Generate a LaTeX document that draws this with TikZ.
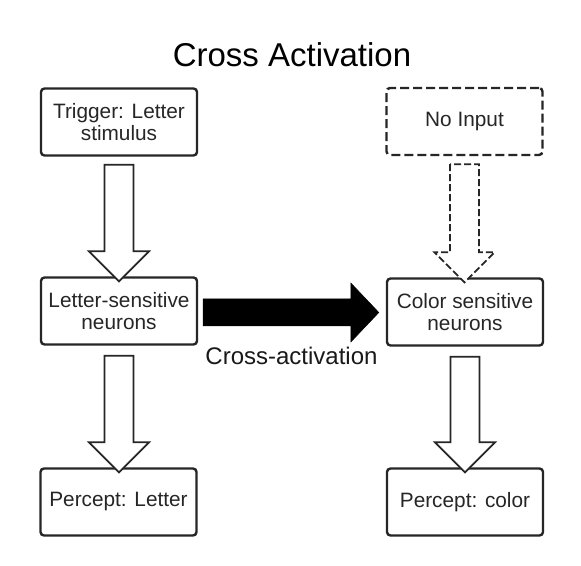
\documentclass[tikz,border=0pt]{standalone}
\usepackage{fontspec}
\setmainfont{Liberation Sans}
\usetikzlibrary{calc}
\tikzset{
  box/.style={draw=black!85, line width=2.4pt, rounded corners=3.5pt,
    minimum width=156pt, minimum height=67pt, align=center,
    font=\fontsize{20.8}{22}\selectfont, text=black!85, inner sep=0pt},
  dbox/.style={box, dash pattern=on 9pt off 4pt},
  harrow/.style={draw=black!85, line width=1.8pt, fill=white, line join=miter},
  dharrow/.style={harrow, dash pattern=on 7pt off 3pt},
  solidarrow/.style={draw=black, fill=black, line width=0.5pt, line join=miter},
  titlefont/.style={font=\fontsize{33}{36}\selectfont},
  labelfont/.style={font=\fontsize{24}{26}\selectfont, text=black!90},
}
\newcommand\downblock[3][]{%
  \draw[harrow,#1] let \p1=(#2), \p2=(#3) in
    (\x1-14.5pt,\y1) -- (\x1-14.5pt,\y2+30pt) -- (\x1-30pt,\y2+30pt) --
    (\x1,\y2) -- (\x1+30pt,\y2+30pt) -- (\x1+14.5pt,\y2+30pt) --
    (\x1+14.5pt,\y1) -- cycle;}
\begin{document}
\begin{tikzpicture}[x=1pt,y=1pt]
\useasboundingbox[fill=white] (0,0) rectangle (581,565);
\node[titlefont, anchor=base] (title) at (292,498) {Cross Activation};

\node[box] (trig) at (119,443) {Trigger: Letter\\stimulus};
\node[dbox] (noinp) at (464.5,443.5) {No Input};
\node[box] (lett) at (119,254) {Letter-sensitive\\neurons};
\node[box] (color) at (465,253) {Color sensitive\\neurons};
\node[box] (pl) at (118.5,63) {Percept: Letter};
\node[box] (pc) at (465,63) {Percept: color};

\coordinate (a1s) at ($(trig.south)+(0,-8)$);
\coordinate (a1e) at ($(lett.north)+(0,-5)$);
\coordinate (a2s) at ($(noinp.south)+(0,-8)$);
\coordinate (a2e) at ($(color.north)+(0,-5)$);
\coordinate (a3s) at ($(lett.south)+(0,-10)$);
\coordinate (a3e) at ($(pl.north)+(0,-5)$);
\coordinate (a4s) at ($(color.south)+(0,-10)$);
\coordinate (a4e) at ($(pc.north)+(0,-5)$);

\downblock{a1s}{a1e}
\downblock[dharrow]{a2s}{a2e}
\downblock{a3s}{a3e}
\downblock{a4s}{a4e}

\coordinate (bs) at ($(lett.east)+(5,-1.5)$);
\coordinate (be) at ($(color.west)+(-7,-0.5)$);
\draw[solidarrow] let \p1=(bs), \p2=(be) in
  (\x1,\y1+13.5pt) -- (\x2-28pt,\y1+13.5pt) -- (\x2-28pt,\y1+29.5pt) --
  (\x2,\y1) -- (\x2-28pt,\y1-29.5pt) -- (\x2-28pt,\y1-13.5pt) --
  (\x1,\y1-13.5pt) -- cycle;

\node[labelfont, anchor=base] (cal) at (291.5,200) {Cross-activation};
\end{tikzpicture}
\end{document}
